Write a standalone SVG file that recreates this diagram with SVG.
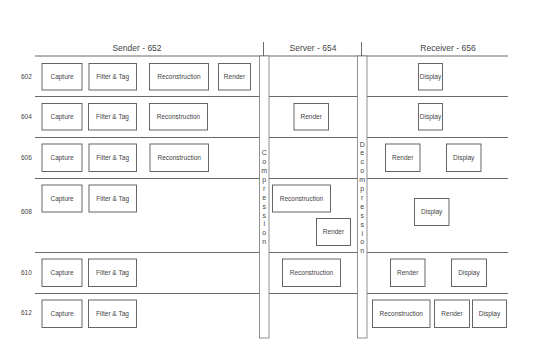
<svg xmlns="http://www.w3.org/2000/svg" width="547" height="364" viewBox="0 0 547 364">
<style>
.bx{fill:#fff;stroke:#555;stroke-width:0.9}
.ln{stroke:#444;stroke-width:0.8;fill:none}
.bar{fill:#fff;stroke:#777;stroke-width:0.8}
.t{font-family:"Liberation Sans",Arial,sans-serif;font-size:6.5px;fill:#444;text-anchor:middle}
.h{font-family:"Liberation Sans",Arial,sans-serif;font-size:8.5px;fill:#444;text-anchor:middle}
.r{font-family:"Liberation Sans",Arial,sans-serif;font-size:6.5px;fill:#444}
.v{font-family:"Liberation Sans",Arial,sans-serif;font-size:7px;fill:#444;text-anchor:middle}
</style>
<rect width="547" height="364" fill="#fff"/>
<g id="headers">
<text class="h" x="137" y="51">Sender - 652</text>
<text class="h" x="313" y="51">Server - 654</text>
<text class="h" x="448" y="51">Receiver - 656</text>
<line class="ln" x1="263.5" y1="42" x2="263.5" y2="56"/>
<line class="ln" x1="361.5" y1="42" x2="361.5" y2="56"/>
</g>
<g id="lanes">
<line class="ln" x1="35" y1="56" x2="508" y2="56"/>
<line class="ln" x1="35" y1="96.5" x2="508" y2="96.5"/>
<line class="ln" x1="35" y1="137.5" x2="508" y2="137.5"/>
<line class="ln" x1="35" y1="178.5" x2="508" y2="178.5"/>
<line class="ln" x1="35" y1="252.5" x2="508" y2="252.5"/>
<line class="ln" x1="35" y1="293.5" x2="508" y2="293.5"/>
</g>
<g id="rowlabels">
<text class="r" x="21" y="79">602</text>
<text class="r" x="21" y="119">604</text>
<text class="r" x="21" y="159.5">606</text>
<text class="r" x="21" y="214">608</text>
<text class="r" x="21" y="274.5">610</text>
<text class="r" x="21" y="315">612</text>
</g>
<g id="compression">
<rect class="bar" x="259.5" y="56" width="9.5" height="282"/>
<text class="v" x="264.2" y="155.2">C</text>
<text class="v" x="264.2" y="164.1">o</text>
<text class="v" x="264.2" y="173">m</text>
<text class="v" x="264.2" y="181.9">p</text>
<text class="v" x="264.2" y="190.8">r</text>
<text class="v" x="264.2" y="199.7">e</text>
<text class="v" x="264.2" y="208.6">s</text>
<text class="v" x="264.2" y="217.5">s</text>
<text class="v" x="264.2" y="226.4">i</text>
<text class="v" x="264.2" y="235.3">o</text>
<text class="v" x="264.2" y="244.2">n</text>
</g>
<g id="decompression">
<rect class="bar" x="357.5" y="56" width="9.5" height="282"/>
<text class="v" x="362.2" y="146.5">D</text>
<text class="v" x="362.2" y="155.4">e</text>
<text class="v" x="362.2" y="164.3">c</text>
<text class="v" x="362.2" y="173.2">o</text>
<text class="v" x="362.2" y="182.1">m</text>
<text class="v" x="362.2" y="191">p</text>
<text class="v" x="362.2" y="199.9">r</text>
<text class="v" x="362.2" y="208.8">e</text>
<text class="v" x="362.2" y="217.7">s</text>
<text class="v" x="362.2" y="226.6">s</text>
<text class="v" x="362.2" y="235.5">i</text>
<text class="v" x="362.2" y="244.4">o</text>
<text class="v" x="362.2" y="253.3">n</text>
</g>
<g id="row602">
<rect class="bx" x="42" y="63.5" width="40" height="26.5"/><text class="t" x="62" y="79">Capture</text>
<rect class="bx" x="89" y="63.5" width="47.5" height="26.5"/><text class="t" x="112.7" y="79">Filter &amp; Tag</text>
<rect class="bx" x="149.5" y="63.5" width="59" height="26.5"/><text class="t" x="179" y="79">Reconstruction</text>
<rect class="bx" x="218.5" y="63.5" width="32" height="26.5"/><text class="t" x="234.5" y="79">Render</text>
<rect class="bx" x="418.5" y="63.5" width="24" height="26.5"/><text class="t" x="430.5" y="79">Display</text>
</g>
<g id="row604">
<rect class="bx" x="42" y="103.5" width="40" height="26.5"/><text class="t" x="62" y="119">Capture</text>
<rect class="bx" x="88.5" y="103.5" width="48" height="26.5"/><text class="t" x="112.5" y="119">Filter &amp; Tag</text>
<rect class="bx" x="149.5" y="103.5" width="58" height="26.5"/><text class="t" x="178.5" y="119">Reconstruction</text>
<rect class="bx" x="294" y="103.5" width="34.5" height="26.5"/><text class="t" x="311.2" y="119">Render</text>
<rect class="bx" x="418.5" y="103.5" width="24" height="26.5"/><text class="t" x="430.5" y="119">Display</text>
</g>
<g id="row606">
<rect class="bx" x="42" y="144" width="40" height="27.5"/><text class="t" x="62" y="160">Capture</text>
<rect class="bx" x="89" y="144" width="47.5" height="27.5"/><text class="t" x="112.7" y="160">Filter &amp; Tag</text>
<rect class="bx" x="150" y="144" width="58.5" height="27.5"/><text class="t" x="179.2" y="160">Reconstruction</text>
<rect class="bx" x="385.5" y="144" width="34.5" height="27.5"/><text class="t" x="402.7" y="160">Render</text>
<rect class="bx" x="446.5" y="144" width="34.5" height="27.5"/><text class="t" x="463.7" y="160">Display</text>
</g>
<g id="row608">
<rect class="bx" x="42" y="185" width="40" height="27"/><text class="t" x="62" y="200.5">Capture</text>
<rect class="bx" x="89" y="185" width="47.5" height="27"/><text class="t" x="112.7" y="200.5">Filter &amp; Tag</text>
<rect class="bx" x="272.5" y="185" width="58" height="27"/><text class="t" x="301.5" y="200.5">Reconstruction</text>
<rect class="bx" x="316.5" y="218.5" width="34" height="27"/><text class="t" x="333.5" y="234">Render</text>
<rect class="bx" x="414.5" y="198.5" width="34.5" height="27"/><text class="t" x="431.7" y="214">Display</text>
</g>
<g id="row610">
<rect class="bx" x="42" y="259" width="40" height="27.5"/><text class="t" x="62" y="275">Capture</text>
<rect class="bx" x="88.5" y="259" width="48" height="27.5"/><text class="t" x="112.5" y="275">Filter &amp; Tag</text>
<rect class="bx" x="282.5" y="259" width="58" height="27.5"/><text class="t" x="311.5" y="275">Reconstruction</text>
<rect class="bx" x="390.5" y="259" width="34.5" height="27.5"/><text class="t" x="407.7" y="275">Render</text>
<rect class="bx" x="451.5" y="259" width="35" height="27.5"/><text class="t" x="469" y="275">Display</text>
</g>
<g id="row612">
<rect class="bx" x="42" y="300" width="40" height="27.5"/><text class="t" x="62" y="316">Capture</text>
<rect class="bx" x="88.5" y="300" width="48" height="27.5"/><text class="t" x="112.5" y="316">Filter &amp; Tag</text>
<rect class="bx" x="372.5" y="300" width="57.5" height="27.5"/><text class="t" x="401.2" y="316">Reconstruction</text>
<rect class="bx" x="434.5" y="300" width="35" height="27.5"/><text class="t" x="452" y="316">Render</text>
<rect class="bx" x="472.5" y="300" width="34" height="27.5"/><text class="t" x="489.5" y="316">Display</text>
</g>
</svg>
